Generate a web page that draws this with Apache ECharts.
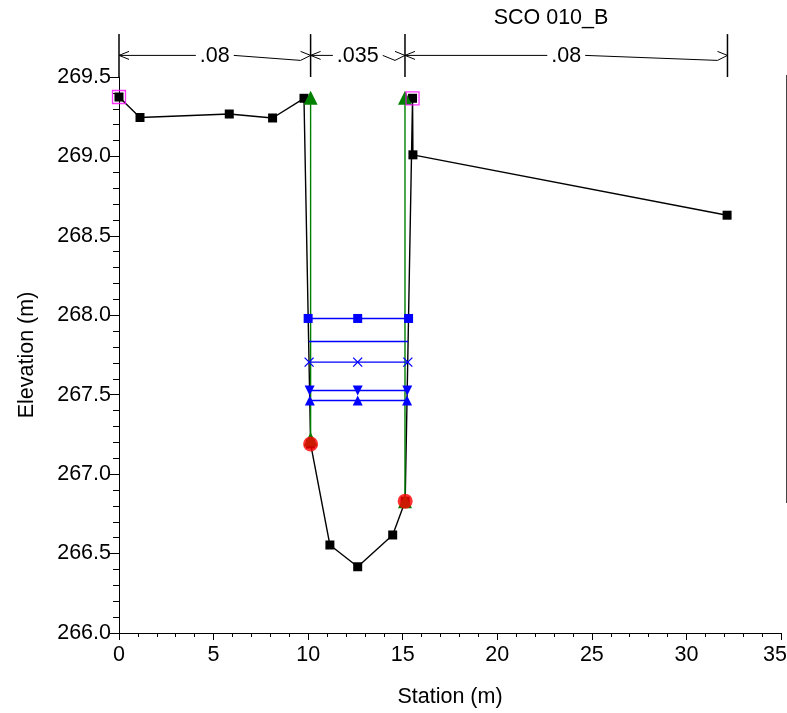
<!DOCTYPE html>
<html><head><meta charset="utf-8">
<script src="https://cdn.jsdelivr.net/npm/echarts@6/dist/echarts.min.js"></script>
<style>html,body{margin:0;padding:0;background:#fff}#c{width:787px;height:713px}</style>
</head><body><div id="c"></div>
<script>
// ---- data ----
const groundSta  = [0, 1.11, 5.83, 8.12, 9.78, 10.13, 11.15, 12.62, 14.47, 15.13, 15.52, 15.54, 32.15];
const groundElev = [269.374, 269.245, 269.267, 269.242, 269.366, 267.19, 266.554, 266.417, 266.617, 266.83, 269.366, 269.01, 268.63];
const bankSta  = [10.13, 15.13];
const bankElev = [267.19, 266.83];
const leveeSta  = [0, 15.52];
const leveeElev = [269.374, 269.366];
const ineffSta = [10.13, 15.12];
const ineffTopElev = [269.37, 269.37];
const ineffBotElev = [267.22, 266.83];
const wsElev  = [267.98, 267.835, 267.705, 267.527, 267.464];
const wsLeft  = [10.00, 10.03, 10.05, 10.08, 10.09];
const wsMid   = [12.62, 12.62, 12.62, 12.62, 12.62];
const wsRight = [15.31, 15.28, 15.27, 15.24, 15.23];
const nSta = [0, 10.13, 15.12, 32.17];
const nVals = ['.08', '.035', '.08'];
const xTicks = [0, 35, 5];
const yTicks = [266, 269.5, 0.5];
const titleText = 'SCO 010_B';

const font = "'Liberation Sans', Arial, sans-serif";
const FS = 21.5;
const cssFont = FS + "px 'Liberation Sans', Arial, sans-serif";
const chart = echarts.init(document.getElementById('c'), null, {renderer: 'canvas'});

const zip = (a, b) => a.map((v, i) => [v, b[i]]);
const txt = {color: '#000', fontSize: FS, fontFamily: font};

const wsSymbols = [
  {symbol: 'rect', size: 9},
  {symbol: 'none', size: 0},
  {symbol: 'path://M0,0L10,10M10,0L0,10', size: 9, stroke: true},
  {symbol: 'path://M0,0L10,0L5,10Z', size: 10},
  {symbol: 'triangle', size: 10}
];

const series = [];
series.push({
  type: 'line', name: 'Ground', z: 3, clip: false, color: '#000',
  data: zip(groundSta, groundElev),
  symbol: 'rect', symbolSize: 9,
  itemStyle: {color: '#000'},
  lineStyle: {color: '#000', width: 1.4}
});
ineffSta.forEach((s, i) => {
  series.push({
    type: 'line', z: 4, clip: false, color: '#008000',
    data: [[s, ineffTopElev[i]], [s, ineffBotElev[i]]],
    symbol: 'triangle', symbolSize: 14,
    itemStyle: {color: '#008000'},
    lineStyle: {color: '#008000', width: 1.4}
  });
});
wsElev.forEach((e, i) => {
  const sy = wsSymbols[i];
  series.push({
    type: 'line', z: 5, clip: false, color: '#0000FF',
    data: [[wsLeft[i], e], [wsMid[i], e], [wsRight[i], e]],
    symbol: sy.symbol === 'none' ? 'circle' : sy.symbol,
    symbolSize: sy.size, symbolKeepAspect: true,
    showSymbol: sy.symbol !== 'none',
    itemStyle: sy.stroke ? {color: 'transparent', borderColor: '#0000FF', borderWidth: 1.3} : {color: '#0000FF'},
    lineStyle: {color: '#0000FF', width: 1.4}
  });
});
series.push({
  type: 'scatter', z: 6, clip: false,
  data: zip(bankSta, bankElev),
  symbol: 'circle', symbolSize: 15,
  itemStyle: {color: '#FF0000'}
});
series.push({
  type: 'scatter', z: 7, clip: false,
  data: zip(leveeSta, leveeElev),
  symbol: 'rect', symbolSize: 13,
  itemStyle: {color: 'transparent', borderColor: '#FF00FF', borderWidth: 1.3}
});

chart.setOption({
  animation: false,
  backgroundColor: '#fff',
  grid: {left: 119, right: 6, top: 77, bottom: 80, containLabel: false, outerBoundsMode: 'none'},
  xAxis: {
    type: 'value', min: xTicks[0], max: xTicks[1], interval: xTicks[2],
    axisLine: {show: true, onZero: false, lineStyle: {color: '#000', width: 1}},
    axisTick: {show: true, length: 7, lineStyle: {color: '#000'}},
    minorTick: {show: true, splitNumber: 5, length: 4, lineStyle: {color: '#000'}},
    splitLine: {show: false},
    axisLabel: Object.assign({
      margin: 11,
      formatter: v => v === xTicks[1] ? '{r|' + v + '}' : String(v),
      rich: {r: {fontSize: FS, fontFamily: font, color: '#000', padding: [0, 12, 0, 0]}}
    }, txt),
    name: 'Station (m)', nameLocation: 'middle', nameGap: 53,
    nameTextStyle: txt
  },
  yAxis: {
    type: 'value', min: yTicks[0], max: yTicks[1], interval: yTicks[2],
    axisLine: {show: true, onZero: false, lineStyle: {color: '#000', width: 1}},
    axisTick: {show: true, length: 9, lineStyle: {color: '#000'}},
    minorTick: {show: true, splitNumber: 5, length: 6, lineStyle: {color: '#000'}},
    splitLine: {show: false},
    axisLabel: Object.assign({margin: 8, formatter: v => v.toFixed(1)}, txt),
    name: 'Elevation (m)', nameLocation: 'middle', nameGap: 81,
    nameTextStyle: txt
  },
  series: series
});

// ---- n-value annotation & decorations ----
const nTopElev = 269.77, nBotElev = 269.5, nArrowElev = 269.636;
const P = (x, y) => chart.convertToPixel({xAxisIndex: 0, yAxisIndex: 0}, [x, y]);
const ctx = document.createElement('canvas').getContext('2d');
ctx.font = cssFont;
const g = [];
const blk = {stroke: '#000', lineWidth: 1, fill: null};
nSta.forEach(s => {
  const a = P(s, nTopElev), b = P(s, nBotElev);
  g.push({type: 'line', shape: {x1: a[0], y1: a[1], x2: b[0], y2: b[1]}, style: {stroke: '#000', lineWidth: 1.5}});
});
const ya = P(0, nArrowElev)[1];
nVals.forEach((v, i) => {
  const xl = P(nSta[i], 0)[0], xr = P(nSta[i + 1], 0)[0];
  const xc = (xl + xr) / 2;
  const w = ctx.measureText(v).width;
  const tl = xc - w / 2 - 4, tr = xc + w / 2 + 4;
  g.push({type: 'polyline', shape: {points: [[xl + 10, ya - 4], [xl, ya], [xl + 10, ya + 4]]}, style: blk});
  g.push({type: 'line', shape: {x1: xl, y1: ya, x2: tl, y2: ya}, style: blk});
  g.push({type: 'polyline', shape: {points: [[tr, ya], [xr - 10, ya + 5], [xr, ya]]}, style: blk});
  g.push({type: 'line', shape: {x1: xr - 10, y1: ya - 4, x2: xr, y2: ya}, style: blk});
  g.push({type: 'text', x: xc, y: ya + 1, style: {text: v, fill: '#000', font: cssFont, textAlign: 'center', textVerticalAlign: 'middle'}});
});
g.push({type: 'text', x: 551, y: 18, style: {text: titleText, fill: '#000', font: cssFont, textAlign: 'center', textVerticalAlign: 'middle'}});
g.push({type: 'line', shape: {x1: 786.5, y1: 75, x2: 786.5, y2: 503}, style: {stroke: '#444', lineWidth: 1}});
chart.setOption({graphic: {elements: g}});
</script>
</body></html>
